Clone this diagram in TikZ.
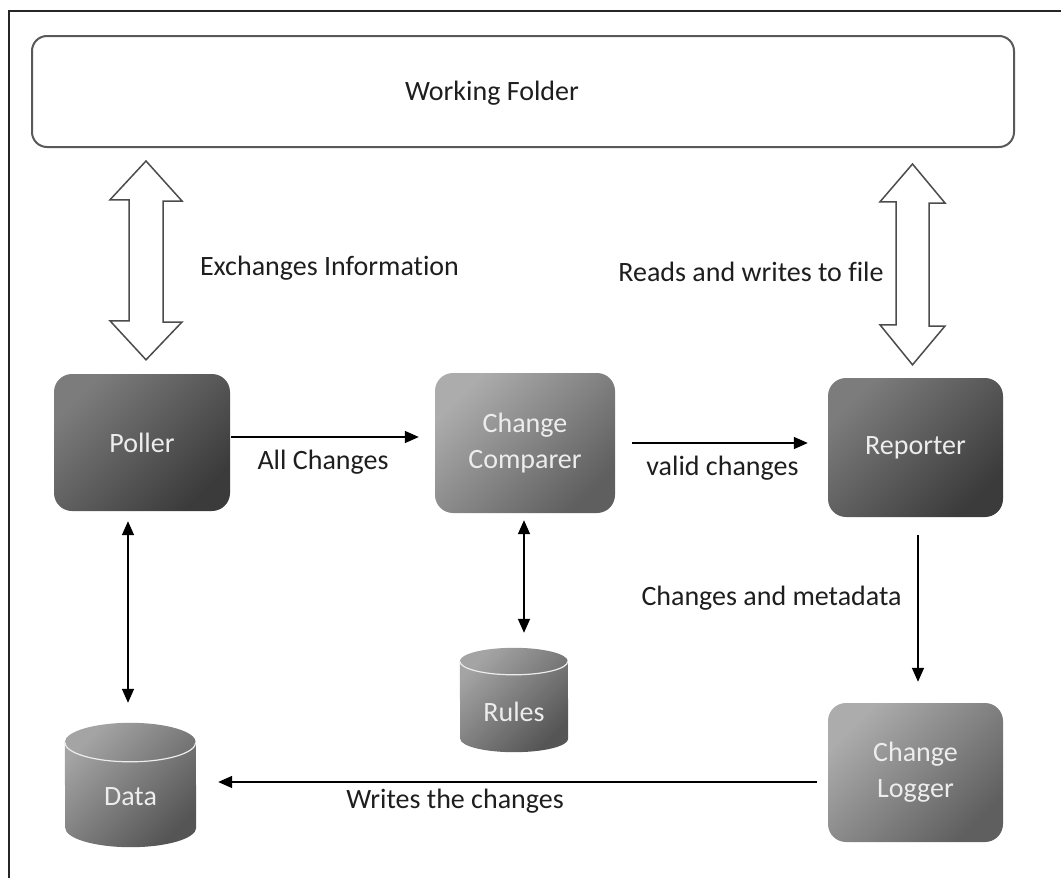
\documentclass[tikz,border=0pt]{standalone}
\usepackage{fontspec}
\setmainfont{Carlito}[Ligatures=NoCommon]
\usetikzlibrary{arrows.meta,positioning,calc,backgrounds}

\definecolor{darkhi}{HTML}{7C7C7C}
\definecolor{darklo}{HTML}{3B3B3B}
\definecolor{lighthi}{HTML}{ACACAC}
\definecolor{lightlo}{HTML}{5F5F5F}
\definecolor{drumhi}{HTML}{A4A4A4}
\definecolor{drumlo}{HTML}{555555}
\definecolor{boxtext}{HTML}{EDEDED}
\definecolor{labeltext}{HTML}{1E1E1E}

\begin{document}
\begin{tikzpicture}[x=1pt, y=-1pt,
    every node/.style={font=\fontsize{28}{36}\selectfont, text=labeltext},
    folderbox/.style={draw=black!65, line width=2pt, rounded corners=15pt, fill=white},
    darkbox/.style={rounded corners=18pt, top color=darkhi, bottom color=darklo, shading angle=45, text=boxtext, align=center},
    lightbox/.style={rounded corners=18pt, top color=lighthi, bottom color=lightlo, shading angle=45, text=boxtext, align=center},
    drum/.style={inner sep=0pt},
    drumtext/.style={text=boxtext, yshift=-12pt},
    drumfill/.style={top color=drumhi, bottom color=drumlo, shading angle=45},
    hollow/.style={draw=black!70, line width=1.5pt, fill=white, line join=miter},
    flow/.style={line width=1.6pt, -{Triangle[length=14pt,width=12pt]}},
    twoway/.style={line width=1.6pt, {Triangle[length=14pt,width=12pt]}-{Triangle[length=14pt,width=12pt]}}]
    \useasboundingbox (0,0) rectangle (1061,878);

    % Frame
    \draw[line width=2pt, black!85] (9,878) -- (9,11) -- (1061,11);

    % Working folder
    \node[folderbox, minimum width=982pt, minimum height=111pt,
          label={[name=foldertext, xshift=-31pt, yshift=-2pt]center:Working Folder}] (folder) at (523,91.5) {};

    % Components
    \node[darkbox, minimum width=176pt, minimum height=137pt] (poller) at (142,442.5) {Poller};
    \node[lightbox, minimum width=180pt, minimum height=140pt] (comparer) at (525,443) {Change\\Comparer};
    \node[darkbox, minimum width=175pt, minimum height=139pt] (reporter) at (915.5,447.5) {Reporter};
    \node[lightbox, minimum width=175pt, minimum height=139pt] (logger) at (915.5,772.5) {Change\\Logger};

    % Stores
    \node[drum, minimum width=131pt, minimum height=124pt,
          label={[name=datatext, drumtext]center:Data}] (data) at (130.5,785) {};
    \node[drum, minimum width=108pt, minimum height=104pt,
          label={[name=rulestext, drumtext]center:Rules}] (rules) at (514,700) {};

    \begin{scope}[on background layer]
        \shade[drumfill] ($(data.north west)+(0,19.5)$) arc[start angle=180, end angle=0, x radius=65.5pt, y radius=19.5pt]
            -- ($(data.south east)+(0,-19.5)$) arc[start angle=0, end angle=-180, x radius=65.5pt, y radius=19.5pt] -- cycle;
        \draw[white!85!gray, line width=1.2pt] ($(data.north west)+(0,19.5)$) arc[start angle=180, end angle=360, x radius=65.5pt, y radius=19.5pt];
        \shade[drumfill] ($(rules.north west)+(0,13.5)$) arc[start angle=180, end angle=0, x radius=54pt, y radius=13.5pt]
            -- ($(rules.south east)+(0,-13.5)$) arc[start angle=0, end angle=-180, x radius=54pt, y radius=13.5pt] -- cycle;
        \draw[white!85!gray, line width=1.2pt] ($(rules.north west)+(0,13.5)$) arc[start angle=180, end angle=360, x radius=54pt, y radius=13.5pt];
    \end{scope}

    % Exchange with the folder
    \coordinate (lefttop) at ($(folder.south -| poller.north)+(4,13)$);
    \coordinate (leftbot) at ($(poller.north)+(4,-14)$);
    \draw[hollow] (lefttop) -- ++(36,40) -- ++(-19,0) -- ++(0,121) -- ++(19,0) -- (leftbot)
        -- ++(-36,-39) -- ++(19,0) -- ++(0,-121) -- ++(-19,0) -- cycle;
    \coordinate (righttop) at ($(folder.south -| reporter.north)+(-3,16)$);
    \coordinate (rightbot) at ($(reporter.north)+(-3,-13)$);
    \draw[hollow] (righttop) -- ++(32.5,39) -- ++(-16,0) -- ++(0,123) -- ++(16,0) -- (rightbot)
        -- ++(-32.5,-40) -- ++(16,0) -- ++(0,-123) -- ++(-16,0) -- cycle;
    \node (exchlabel) at (329.5,268) {Exchanges Information};
    \node (readslabel) at (751,272) {Reads and writes to file};

    % Flow of changes
    \draw[flow] ([xshift=1pt,yshift=5.5pt]poller.east) -- ([xshift=-16pt,yshift=6pt]comparer.west);
    \node (alllabel) at (323,462) {All Changes};
    \draw[flow] ([xshift=17pt]comparer.east) -- ([xshift=-20pt,yshift=4.5pt]reporter.west);
    \node (validlabel) at (722.5,468) {valid changes};
    \draw[flow] ([xshift=2.5pt,yshift=-18pt]reporter.south) -- ([xshift=2.5pt,yshift=21pt]logger.north);
    \node (metalabel) at (771.5,598) {Changes and metadata};
    \draw[flow] ([xshift=-11pt,yshift=-9.5pt]logger.west) -- ([xshift=22pt,yshift=3pt]data.east);
    \node (writeslabel) at (455,801) {Writes the changes};

    % Store access
    \draw[twoway] ([xshift=-14pt,yshift=-10pt]poller.south) -- ([xshift=-2.5pt,yshift=20pt]data.north);
    \draw[twoway] ([xshift=-1pt,yshift=-7pt]comparer.south) -- ([xshift=10pt,yshift=15pt]rules.north);
\end{tikzpicture}
\end{document}
